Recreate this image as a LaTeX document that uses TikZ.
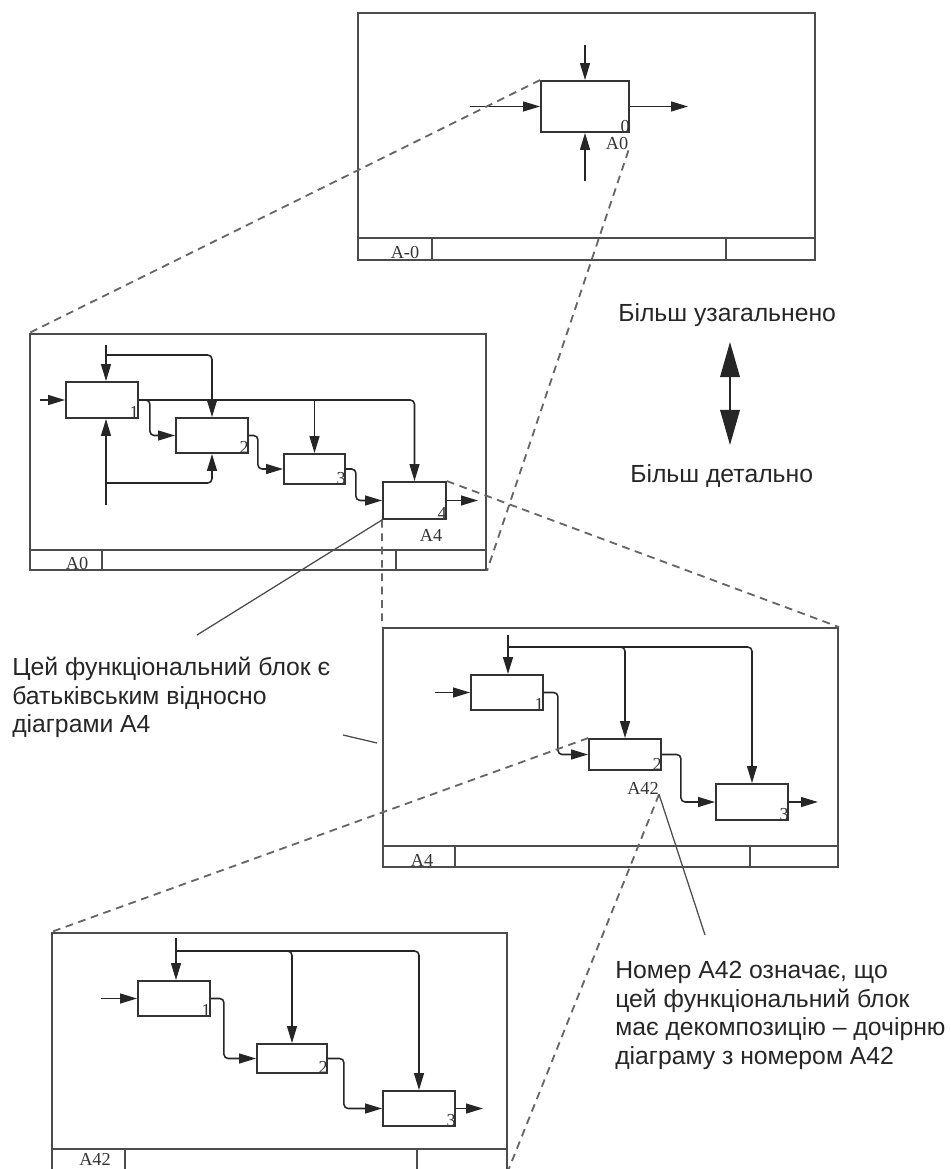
\documentclass[tikz,border=0pt]{standalone}
\usepackage{fontspec}
\setmainfont{Liberation Sans}
\newfontfamily\idefserif{Liberation Serif}
\usetikzlibrary{positioning,arrows.meta,shapes}

\tikzset{
  frm/.style={draw=black!70, line width=1.3pt, inner sep=0pt},
  blk/.style={draw=black!80, line width=1.3pt, inner sep=0pt, minimum width=1.8cm, minimum height=0.875cm},
  lbl/.style={inner sep=0pt, font=\idefserif\fontsize{13}{13}\selectfont, text=black!80},
  arr/.style={draw=black!85, line width=1.1pt, -{Triangle[length=12pt,width=7pt]}},
  flow/.style={arr, rounded corners=3pt},
  zoomln/.style={draw=black!60, line width=1.3pt, dash pattern=on 5.5pt off 4pt},
  note/.style={align=left, inner sep=0pt, font=\fontsize{17.6}{20.3}\selectfont, text=black!85},
  callout/.style={draw=black!70, line width=0.9pt},
  bigarr/.style={draw=black!85, line width=1.1pt, {Triangle[length=25pt,width=14pt]}-{Triangle[length=25pt,width=14pt]}}
}

\begin{document}
\begin{tikzpicture}[x=0.025cm,y=-0.025cm]
\useasboundingbox (0,0) rectangle (950,1169);

% A-0
\node[frm, minimum width=11.425cm, minimum height=6.175cm] (fT) at (586.5,136.5) {};
\draw[frm] (358,238) -- (815,238) (432,238) -- (432,260) (726,238) -- (726,260);
\node[lbl, anchor=base] (lT) at (405,258) {A-0};
\node[blk, minimum width=2.2cm, minimum height=1.275cm] (t0) at (585,106.5) {};
\node[lbl, anchor=south east] (t0n) at (t0.south east) {0};
\node[lbl] (t0a) at (617,144) {A0};
\coordinate (t0i) at (470,106.5);
\coordinate (t0o) at (688,106.5);
\coordinate (t0c) at (585,45);
\coordinate (t0m) at (585,181);
\draw[arr] (t0i) -- (t0.west);
\draw[arr] (t0.east) -- (t0o);
\draw[arr] (t0c) -- (t0.north);
\draw[arr] (t0m) -- (t0.south);

% A0
\node[frm, minimum width=11.4cm, minimum height=5.9cm] (fA0) at (258,452) {};
\draw[frm] (30,550) -- (486,550) (102,550) -- (102,570) (396,550) -- (396,570);
\node[lbl, anchor=base] (lA0) at (77,569) {A0};
\node[blk, minimum height=0.9cm] (a1) at (102,400) {};
\node[blk] (a2) at (212,435.5) {};
\node[blk, minimum width=1.525cm, minimum height=0.75cm] (a3) at (314.5,469) {};
\node[blk, minimum width=1.575cm, minimum height=0.925cm] (a4) at (414.5,500.5) {};
\node[lbl, anchor=south east] (a1n) at (a1.south east) {1};
\node[lbl, anchor=south east] (a2n) at (a2.south east) {2};
\node[lbl, anchor=south east] (a3n) at (a3.south east) {3};
\node[lbl, anchor=south east] (a4n) at (a4.south east) {4};
\node[lbl] (a4a) at (431,535) {A4};
\coordinate (a0i) at (40,400);
\coordinate (a0c) at (106,345);
\coordinate (a0k) at (106,355);
\coordinate (a0m) at (106,505);
\coordinate (a0j) at (106,483);
\draw[arr] (a0i) -- (a1.west);
\draw[arr] (a0c) -- (a1.north -| a0c);
\draw[flow] (a0k) -| (a2.north);
\draw[flow] (a1.east) -| (a4.north);
\draw[arr] (a1.east -| a3.north) -- (a3.north);
\draw[flow] (a1.east) -- ++(11,0) |- (a2.west);
\draw[flow] (a2.east) -- ++(9,0) |- (a3.west);
\draw[flow] (a3.east) -- ++(10,0) |- (a4.west);
\draw[arr] (a4.east) -- ++(31,0);
\draw[arr] (a0m) -- (a1.south -| a0m);
\draw[flow] (a0j) -| (a2.south);

% A4
\node[frm, minimum width=11.375cm, minimum height=5.975cm] (fA4) at (610.5,747.5) {};
\draw[frm] (383,846) -- (838,846) (455,846) -- (455,867) (750,846) -- (750,867);
\node[lbl, anchor=base] (lA4) at (422,866) {A4};
\node[blk] (b1) at (507,692.5) {};
\node[blk, minimum height=0.775cm] (b2) at (625,754.5) {};
\node[blk, minimum height=0.9cm] (b3) at (752,802) {};
\node[lbl, anchor=south east] (b1n) at (b1.south east) {1};
\node[lbl, anchor=south east] (b2n) at (b2.south east) {2};
\node[lbl, anchor=south east] (b3n) at (b3.south east) {3};
\node[lbl] (b2a) at (643,788) {A42};
\coordinate (b0i) at (435,692.5);
\coordinate (b0c) at (508,635);
\coordinate (b0k) at (508,647);
\draw[arr] (b0i) -- (b1.west);
\draw[arr] (b0c) -- (b1.north -| b0c);
\draw[flow] (b0k) -| (b2.north);
\draw[flow] (b0k) -| (b3.north);
\draw[flow] (b1.east) -- ++(14,0) |- (b2.west);
\draw[flow] (b2.east) -- ++(19,0) |- (b3.west);
\draw[arr] (b3.east) -- ++(29,0);

% A42
\node[frm, minimum width=11.375cm, minimum height=5.925cm] (fA42) at (279.5,1051.5) {};
\draw[frm] (52,1149) -- (507,1149) (125,1149) -- (125,1170) (417,1149) -- (417,1170);
\node[lbl, anchor=base] (lA42) at (95,1165) {A42};
\node[blk] (c1) at (174,998.5) {};
\node[blk, minimum width=1.75cm, minimum height=0.725cm] (c2) at (292,1058.5) {};
\node[blk] (c3) at (419,1108.5) {};
\node[lbl, anchor=south east] (c1n) at (c1.south east) {1};
\node[lbl, anchor=south east] (c2n) at (c2.south east) {2};
\node[lbl, anchor=south east] (c3n) at (c3.south east) {3};
\coordinate (c0i) at (101,998.5);
\coordinate (c0c) at (176,938);
\coordinate (c0k) at (176,951);
\draw[arr] (c0i) -- (c1.west);
\draw[arr] (c0c) -- (c1.north -| c0c);
\draw[flow] (c0k) -| (c2.north);
\draw[flow] (c0k) -| (c3.north);
\draw[flow] (c1.east) -- ++(13,0) |- (c2.west);
\draw[flow] (c2.east) -- ++(16,0) |- (c3.west);
\draw[arr] (c3.east) -- ++(27,0);

% decomposition lines
\draw[zoomln] (t0.north west) -- (fA0.north west);
\draw[zoomln] (t0a.south east) -- (fA0.south east);
\draw[zoomln] (a4.north east) -- (fA4.north east);
\draw[zoomln] (a4.south west) -- (fA4.north west);
\draw[zoomln] (b2.north west) -- (fA42.north west);
\draw[zoomln] (b2a.south east) -- (fA42.south east);

% notes
\node[note, anchor=base west] (gen) at (618,321) {Більш узагальнено};
\node[note, anchor=base west] (det) at (630,482) {Більш детально};
\coordinate (up) at (730,342);
\coordinate (dn) at (730,445);
\draw[bigarr] (up) -- (dn);

\node[note, anchor=north west] (txt1) at (12,657) {Цей функціональний блок є\\батьківським відносно\\діаграми А4};
\coordinate (p1) at (197,635);
\draw[callout] (a4.south west) -- (p1);
\coordinate (s1) at (343,735);
\coordinate (s2) at (377,743);
\draw[callout] (s1) -- (s2);

\node[note, anchor=north west] (txt2) at (615,961) {Номер А42 означає, що\\цей функціональний блок\\має декомпозицію -- дочірню\\діаграму з номером А42};
\coordinate (p2) at (705,935);
\draw[callout] (b2a.south east) -- (p2);
\end{tikzpicture}
\end{document}
